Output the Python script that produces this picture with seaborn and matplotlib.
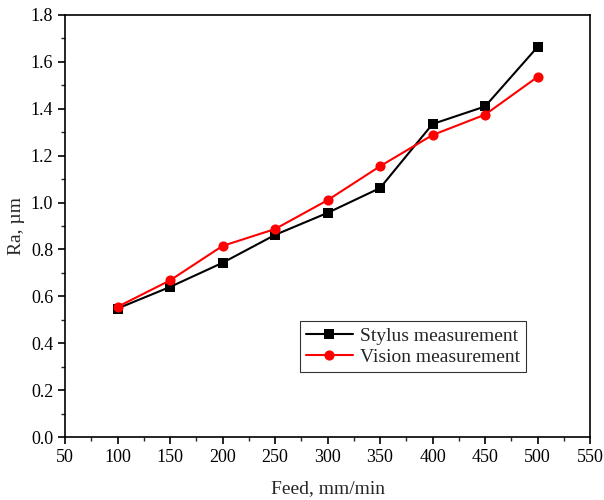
import pandas as pd
import seaborn as sns
import matplotlib.pyplot as plt
from matplotlib.ticker import MultipleLocator

# Data
feed = [100, 150, 200, 250, 300, 350, 400, 450, 500]
stylus = [0.548, 0.640, 0.743, 0.862, 0.956, 1.062, 1.335, 1.410, 1.664]
vision = [0.555, 0.668, 0.815, 0.887, 1.010, 1.155, 1.288, 1.375, 1.536]

df = pd.DataFrame({
    'Feed': feed * 2,
    'Ra': stylus + vision,
    'Method': ['Stylus measurement'] * len(feed) + ['Vision measurement'] * len(feed),
})

sns.set_style("ticks")
plt.rcParams['font.family'] = ['Liberation Serif', 'DejaVu Serif']

fig = plt.figure(figsize=(6.04, 5.0), dpi=100)
ax = fig.add_axes([0.1076, 0.126, 0.8694, 0.844])

sns.lineplot(
    data=df, x='Feed', y='Ra', hue='Method', style='Method',
    palette={'Stylus measurement': 'black', 'Vision measurement': 'red'},
    markers={'Stylus measurement': 's', 'Vision measurement': 'o'},
    dashes=False, markersize=7.3, markeredgewidth=0, linewidth=1.5, ax=ax,
)

ax.set_xlim(50, 550)
ax.set_ylim(0, 1.8)
ax.xaxis.set_major_locator(MultipleLocator(50))
ax.xaxis.set_minor_locator(MultipleLocator(25))
ax.yaxis.set_major_locator(MultipleLocator(0.2))
ax.yaxis.set_minor_locator(MultipleLocator(0.1))
ax.yaxis.set_major_formatter(plt.FormatStrFormatter('%.1f'))
ax.tick_params(which='major', direction='out', length=5, width=1.2, labelsize=13, colors='black')
ax.tick_params(which='minor', direction='out', length=3, width=1.0)
for s in ax.spines.values():
    s.set_linewidth(1.2)
    s.set_color('black')

ax.set_xlabel('Feed, mm/min', fontsize=14, labelpad=10)
ax.set_ylabel('Ra, µm', fontsize=14)

leg = ax.legend(loc='lower left', bbox_to_anchor=(0.448, 0.154), fontsize=14,
                frameon=True, fancybox=False, edgecolor='black',
                borderaxespad=0, handlelength=2.4, handletextpad=0.35,
                borderpad=0.3, labelspacing=0.2)
leg.get_frame().set_linewidth(0.8)

fig.savefig('out.png', dpi=100)
